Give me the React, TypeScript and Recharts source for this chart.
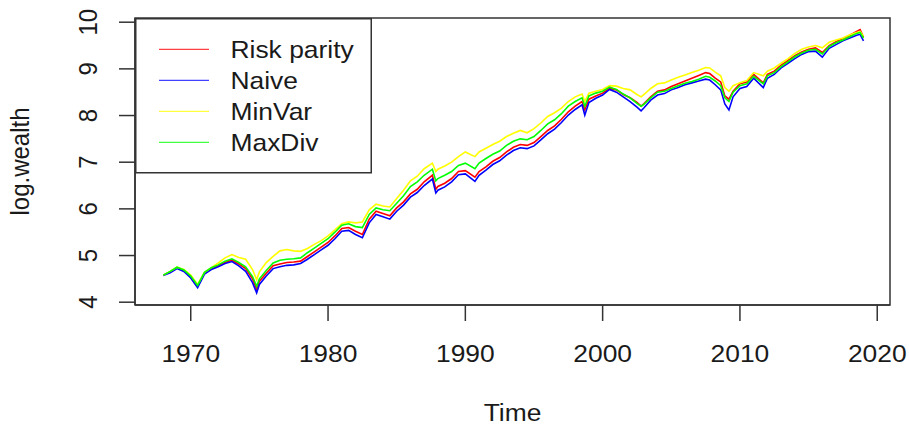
import React from 'react';
import { LineChart, Line, XAxis, YAxis, ReferenceArea, Legend, Label } from 'recharts';

const years = [
  1968.0, 1968.5, 1969.0, 1969.5, 1970.0, 1970.5, 1971.0, 1971.5, 1972.0, 1972.5,
  1973.0, 1973.5, 1974.0, 1974.5, 1974.8, 1975.0, 1975.5, 1976.0, 1976.5, 1977.0,
  1977.5, 1978.0, 1978.5, 1979.0, 1979.5, 1980.0, 1980.5, 1981.0, 1981.5, 1982.0,
  1982.5, 1983.0, 1983.5, 1984.0, 1984.5, 1985.0, 1985.5, 1986.0, 1986.5, 1987.0,
  1987.6, 1987.85, 1988.0, 1988.5, 1989.0, 1989.5, 1990.0, 1990.7, 1991.0, 1991.5,
  1992.0, 1992.5, 1993.0, 1993.5, 1994.0, 1994.5, 1995.0, 1995.5, 1996.0, 1996.5,
  1997.0, 1997.5, 1998.0, 1998.5, 1998.7, 1999.0, 1999.5, 2000.0, 2000.5, 2001.0,
  2001.5, 2002.0, 2002.5, 2002.8, 2003.0, 2003.5, 2004.0, 2004.5, 2005.0, 2005.5,
  2006.0, 2006.5, 2007.0, 2007.5, 2007.8, 2008.2, 2008.6, 2008.9, 2009.2, 2009.5,
  2010.0, 2010.5, 2011.0, 2011.7, 2012.0, 2012.5, 2013.0, 2013.5, 2014.0, 2014.5,
  2015.0, 2015.5, 2016.0, 2016.5, 2017.0, 2017.5, 2018.0, 2018.5, 2018.75, 2019.0,
];

const riskParity = [
  4.58, 4.65, 4.74, 4.68, 4.55, 4.35, 4.62, 4.72, 4.78, 4.85,
  4.90, 4.82, 4.72, 4.50, 4.28, 4.45, 4.62, 4.78, 4.82, 4.85,
  4.86, 4.88, 4.98, 5.08, 5.18, 5.28, 5.42, 5.58, 5.60, 5.52,
  5.45, 5.78, 5.95, 5.90, 5.85, 6.02, 6.15, 6.32, 6.42, 6.58,
  6.72, 6.42, 6.48, 6.55, 6.65, 6.80, 6.82, 6.68, 6.80, 6.90,
  7.02, 7.10, 7.22, 7.32, 7.38, 7.36, 7.42, 7.55, 7.68, 7.78,
  7.92, 8.08, 8.20, 8.30, 8.12, 8.35, 8.42, 8.48, 8.58, 8.55,
  8.45, 8.38, 8.28, 8.20, 8.25, 8.40, 8.52, 8.55, 8.62, 8.68,
  8.74, 8.80, 8.86, 8.92, 8.90, 8.80, 8.72, 8.42, 8.35, 8.52,
  8.68, 8.72, 8.88, 8.70, 8.88, 8.95, 9.08, 9.18, 9.28, 9.36,
  9.42, 9.45, 9.35, 9.50, 9.58, 9.65, 9.72, 9.80, 9.84, 9.68,
];

const naive = [
  4.57, 4.63, 4.72, 4.66, 4.52, 4.31, 4.60, 4.70, 4.76, 4.83,
  4.87, 4.78, 4.66, 4.42, 4.20, 4.38, 4.56, 4.72, 4.76, 4.79,
  4.80, 4.83, 4.92, 5.02, 5.12, 5.22, 5.36, 5.52, 5.54, 5.45,
  5.38, 5.70, 5.88, 5.83, 5.78, 5.95, 6.08, 6.25, 6.35, 6.50,
  6.64, 6.34, 6.40, 6.47, 6.58, 6.73, 6.75, 6.59, 6.72, 6.83,
  6.95, 7.03, 7.15, 7.25, 7.31, 7.29, 7.35, 7.48, 7.61, 7.71,
  7.85, 8.01, 8.13, 8.23, 8.01, 8.28, 8.37, 8.44, 8.56, 8.50,
  8.40, 8.30, 8.18, 8.10, 8.16, 8.33, 8.44, 8.47, 8.55, 8.60,
  8.66, 8.70, 8.74, 8.78, 8.76, 8.66, 8.55, 8.25, 8.12, 8.40,
  8.58, 8.62, 8.80, 8.60, 8.80, 8.88, 9.02, 9.12, 9.22, 9.31,
  9.37, 9.38, 9.25, 9.44, 9.52, 9.60, 9.66, 9.72, 9.74, 9.60,
];

const minVar = [
  4.58, 4.66, 4.75, 4.70, 4.58, 4.38, 4.64, 4.74, 4.84, 4.95,
  5.02, 4.96, 4.92, 4.70, 4.48, 4.65, 4.85, 4.98, 5.10, 5.13,
  5.10, 5.09, 5.15, 5.24, 5.32, 5.42, 5.55, 5.68, 5.72, 5.70,
  5.72, 5.98, 6.10, 6.06, 6.04, 6.22, 6.40, 6.60, 6.70, 6.86,
  6.98, 6.80, 6.85, 6.92, 7.00, 7.12, 7.22, 7.12, 7.22, 7.30,
  7.38, 7.45, 7.55, 7.62, 7.68, 7.63, 7.72, 7.84, 7.98, 8.06,
  8.16, 8.30, 8.40, 8.46, 8.30, 8.48, 8.52, 8.56, 8.64, 8.63,
  8.58, 8.55, 8.45, 8.40, 8.45, 8.58, 8.68, 8.70, 8.76, 8.82,
  8.87, 8.92, 8.97, 9.03, 9.02, 8.93, 8.85, 8.60, 8.52, 8.64,
  8.70, 8.75, 8.92, 8.85, 8.95, 9.02, 9.12, 9.22, 9.33, 9.42,
  9.47, 9.50, 9.45, 9.57, 9.62, 9.66, 9.73, 9.78, 9.80, 9.70,
];

const maxDiv = [
  4.58, 4.66, 4.75, 4.69, 4.56, 4.36, 4.64, 4.74, 4.80, 4.88,
  4.93, 4.85, 4.76, 4.55, 4.34, 4.50, 4.68, 4.84, 4.90, 4.92,
  4.93, 4.95, 5.06, 5.16, 5.26, 5.36, 5.50, 5.65, 5.68, 5.62,
  5.60, 5.88, 6.02, 5.98, 5.96, 6.12, 6.28, 6.48, 6.58, 6.72,
  6.85, 6.60, 6.65, 6.72, 6.80, 6.93, 6.98, 6.86, 6.98, 7.08,
  7.17, 7.24, 7.36, 7.45, 7.50, 7.48, 7.55, 7.68, 7.82, 7.91,
  8.04, 8.20, 8.30, 8.38, 8.20, 8.42, 8.48, 8.52, 8.61, 8.56,
  8.46, 8.38, 8.26, 8.20, 8.24, 8.38, 8.50, 8.52, 8.58, 8.64,
  8.69, 8.73, 8.78, 8.84, 8.82, 8.74, 8.64, 8.38, 8.30, 8.50,
  8.64, 8.68, 8.84, 8.68, 8.85, 8.92, 9.05, 9.15, 9.26, 9.34,
  9.40, 9.42, 9.32, 9.48, 9.56, 9.62, 9.69, 9.76, 9.78, 9.66,
];

const xTicks = [1970, 1980, 1990, 2000, 2010, 2020];
const yTicks = [4, 5, 6, 7, 8, 9, 10];
const seriesKeys = ['rp', 'naive', 'minVar', 'maxDiv'];
const seriesNames = ['Risk parity', 'Naive', 'MinVar', 'MaxDiv'];
const seriesColors = ['#ff0000', '#0000ff', '#ffff00', '#00ff00'];

const X_DOMAIN: [number, number] = [1965.94, 2020.93];
const Y_DOMAIN: [number, number] = [3.94, 10.09];

const data = years.map((yr, i) => ({
  year: yr,
  rp: riskParity[i],
  naive: naive[i],
  minVar: minVar[i],
  maxDiv: maxDiv[i],
}));

const FONT = '"Liberation Sans", Arial, sans-serif';
const TEXT_COLOR = '#1a1a1a';

const XTick = (props: any) => {
  const { x, y, payload } = props;
  return (
    <text
      transform={`translate(${x},${y + 39}) scale(1.1,1)`}
      textAnchor="middle"
      fontFamily={FONT}
      fontSize={24}
      fill={TEXT_COLOR}
    >
      {payload.value}
    </text>
  );
};

const YTick = (props: any) => {
  const { x, y, payload } = props;
  return (
    <text
      transform={`translate(${x - 20.5},${y}) scale(1.1,1) rotate(-90)`}
      textAnchor="middle"
      fontFamily={FONT}
      fontSize={24}
      fill={TEXT_COLOR}
    >
      {payload.value}
    </text>
  );
};

const XTitle = (props: any) => {
  const vb = props.viewBox || { x: 0, y: 0, width: 0, height: 0 };
  return (
    <text
      transform={`translate(${vb.x + vb.width / 2},${vb.y + 116}) scale(1.1,1)`}
      textAnchor="middle"
      fontFamily={FONT}
      fontSize={24}
      fill={TEXT_COLOR}
    >
      Time
    </text>
  );
};

const YTitle = (props: any) => {
  const vb = props.viewBox || { x: 0, y: 0, width: 0, height: 0 };
  return (
    <text
      transform={`translate(${vb.x - 46.5},${vb.y + vb.height / 2}) scale(1.1,1) rotate(-90)`}
      textAnchor="middle"
      fontFamily={FONT}
      fontSize={24}
      fill={TEXT_COLOR}
    >
      log.wealth
    </text>
  );
};

const LegendBox = () => {
  return (
    <svg width={237} height={156} style={{ display: 'block' }}>
      <rect x={0.75} y={0.75} width={235.5} height={154} fill="#fff" stroke="#333" strokeWidth={1.5} />
      {seriesNames.map((name, i) => {
        const rowY = 31.3 + i * 31;
        return (
          <g key={name}>
            <line x1={24} x2={74} y1={rowY} y2={rowY} stroke={seriesColors[i]} strokeWidth={1.3} strokeOpacity={0.75} />
            <text
              transform={`translate(95.5,${rowY + 8.6}) scale(1.1,1)`}
              fontFamily={FONT}
              fontSize={24}
              fill={TEXT_COLOR}
            >
              {name}
            </text>
          </g>
        );
      })}
    </svg>
  );
};

export default function App() {
  return (
    <div style={{ position: 'absolute', left: 0, top: 0, background: '#fff' }}>
      <LineChart
        width={909}
        height={433}
        data={data}
        margin={{ top: 18, right: 19, bottom: 98, left: 75 }}
      >
        <XAxis
          type="number"
          dataKey="year"
          domain={X_DOMAIN}
          ticks={xTicks}
          interval={0}
          allowDataOverflow
          height={30}
          tickSize={16}
          tickMargin={2}
          axisLine={{ stroke: '#333', strokeWidth: 1.5 }}
          tickLine={{ stroke: '#333', strokeWidth: 1.5 }}
          tick={(p: any) => <XTick {...p} />}
        >
          <Label content={(p: any) => <XTitle {...p} />} />
        </XAxis>
        <YAxis
          type="number"
          domain={Y_DOMAIN}
          ticks={yTicks}
          interval={0}
          allowDataOverflow
          width={60}
          tickSize={16}
          tickMargin={2}
          axisLine={{ stroke: '#333', strokeWidth: 1.5 }}
          tickLine={{ stroke: '#333', strokeWidth: 1.5 }}
          tick={(p: any) => <YTick {...p} />}
        >
          <Label content={(p: any) => <YTitle {...p} />} />
        </YAxis>
        <ReferenceArea
          x1={X_DOMAIN[0]}
          x2={X_DOMAIN[1]}
          y1={Y_DOMAIN[0]}
          y2={Y_DOMAIN[1]}
          fill="none"
          fillOpacity={0}
          stroke="#333"
          strokeWidth={1.5}
          ifOverflow="visible"
        />
        {seriesKeys.map((k, i) => (
          <Line
            key={k}
            type="linear"
            dataKey={k}
            name={seriesNames[i]}
            stroke={seriesColors[i]}
            strokeWidth={1.6}
            dot={false}
            isAnimationActive={false}
          />
        ))}
        <Legend
          layout="vertical"
          align="center"
          verticalAlign="middle"
          wrapperStyle={{ position: 'absolute', left: 135, top: 18, width: 237, height: 156, margin: 0, padding: 0 }}
          content={() => <LegendBox />}
        />
      </LineChart>
    </div>
  );
}
